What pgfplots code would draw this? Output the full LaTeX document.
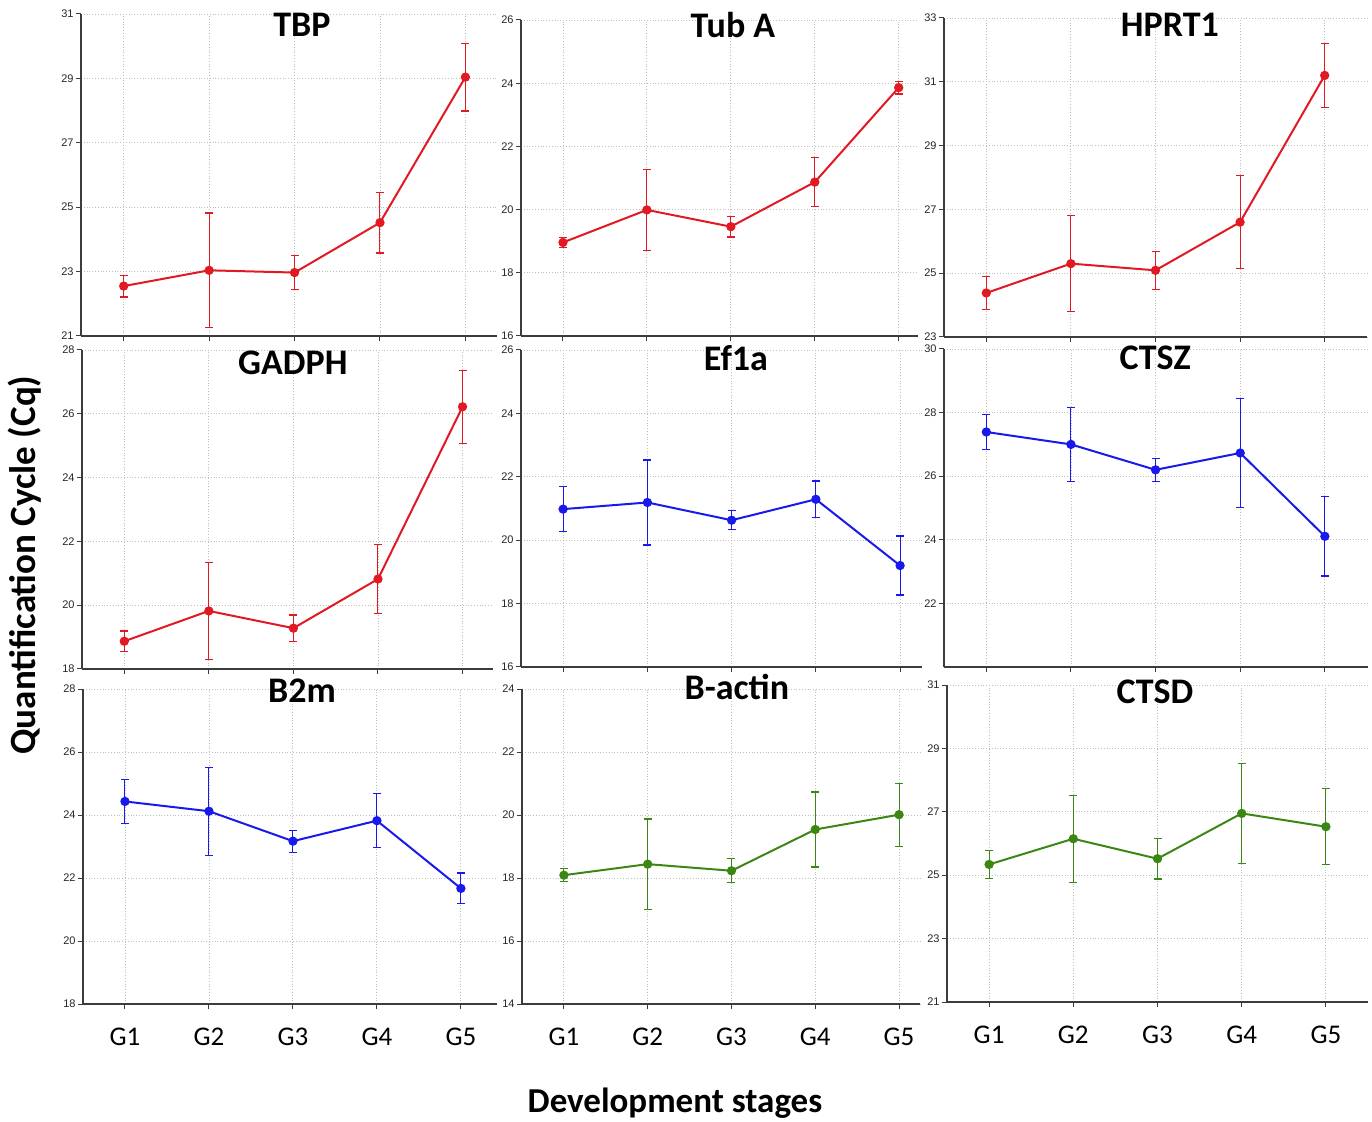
\documentclass[border=0pt]{standalone}
\usepackage{fontspec}
\setmainfont{Carlito}
\newfontfamily\tickfont{Liberation Sans}
\usepackage{pgfplots}
\pgfplotsset{compat=1.18}
\definecolor{cred}{RGB}{225,25,35}
\definecolor{cblue}{RGB}{25,25,235}
\definecolor{cgreen}{RGB}{60,135,20}
\definecolor{axgray}{RGB}{60,60,60}
\tikzset{ttl/.style={font=\bfseries\fontsize{18}{20}\selectfont}}
\pgfplotsset{
 panel/.style={
  scale only axis, anchor=south west, clip=false,
  axis x line*=bottom, axis y line*=left,
  axis line style={axgray, line width=1pt, -},
  xmin=0.5, xtick={1,2,3,4,5},
  xticklabels={},
  tick align=outside,
  major tick length=2.5pt,
  tick style={axgray, line width=0.5pt},
  grid=major,
  major grid style={densely dotted, black!25, line width=0.45pt},
  /pgf/number format/assume math mode=true,
  yticklabel style={font=\tickfont\fontsize{5.5}{6}\selectfont, inner sep=1pt, text=black!85},
  xticklabel style={font=\fontsize{13.5}{14}\selectfont, yshift=-6pt},
 },
 dataplot/.style={line width=1pt, mark=*, mark size=1.8pt, mark options={solid},
   error bars/.cd, y dir=both, y explicit,
   error bar style={line width=0.5pt},
   error mark options={rotate=90, mark size=2pt, line width=0.6pt},
   /pgfplots/.cd},
}
\begin{document}
\begin{tikzpicture}
\path[use as bounding box] (0,0) rectangle (686pt,560.5pt);
% Row 1
\begin{axis}[panel, at={(40.5pt,392.5pt)}, width=208pt, height=161pt, xmax=5.37, ymin=21, ymax=31, ytick={21,23,...,31}]
\addplot[color=cred, dataplot] coordinates {(1,22.55) +- (0,0.34) (2,23.04) +- (0,1.78) (3,22.97) +- (0,0.53) (4,24.52) +- (0,0.94) (5,29.04) +- (0,1.05)};
\node[ttl] at (rel axis cs:0.531,0.966) {TBP};
\end{axis}
\begin{axis}[panel, at={(260.5pt,392.5pt)}, width=198.5pt, height=158pt, xmax=5.23, ymin=16, ymax=26, ytick={16,18,...,26}]
\addplot[color=cred, dataplot] coordinates {(1,18.96) +- (0,0.16) (2,19.99) +- (0,1.29) (3,19.46) +- (0,0.33) (4,20.87) +- (0,0.78) (5,23.86) +- (0,0.2)};
\node[ttl] at (rel axis cs:0.534,0.984) {Tub A};
\end{axis}
\begin{axis}[panel, at={(472pt,392pt)}, width=211.5pt, height=159.5pt, xmax=5.5, ymin=23, ymax=33, ytick={23,25,...,33}]
\addplot[color=cred, dataplot] coordinates {(1,24.38) +- (0,0.52) (2,25.30) +- (0,1.5) (3,25.09) +- (0,0.6) (4,26.60) +- (0,1.46) (5,31.20) +- (0,1.0)};
\node[ttl] at (rel axis cs:0.534,0.978) {HPRT1};
\end{axis}
% Row 2
\begin{axis}[panel, at={(41pt,226pt)}, width=205.5pt, height=159.5pt, xmax=5.36, ymin=18, ymax=28, ytick={18,20,...,28}]
\addplot[color=cred, dataplot] coordinates {(1,18.87) +- (0,0.32) (2,19.82) +- (0,1.52) (3,19.28) +- (0,0.41) (4,20.82) +- (0,1.08) (5,26.22) +- (0,1.14)};
\node[ttl] at (rel axis cs:0.513,0.959) {GADPH};
\end{axis}
\begin{axis}[panel, at={(260.5pt,227pt)}, width=200.5pt, height=158.5pt, xmax=5.26, ymin=16, ymax=26, ytick={16,18,...,26}]
\addplot[color=cblue, dataplot] coordinates {(1,20.98) +- (0,0.71) (2,21.19) +- (0,1.34) (3,20.63) +- (0,0.3) (4,21.29) +- (0,0.58) (5,19.20) +- (0,0.93)};
\node[ttl] at (rel axis cs:0.536,0.975) {Ef1a};
\end{axis}
\begin{axis}[panel, at={(472pt,227pt)}, width=212pt, height=159pt, xmax=5.51, ymin=20, ymax=30, ytick={22,24,...,30}]
\addplot[color=cblue, dataplot] coordinates {(1,27.39) +- (0,0.55) (2,27.0) +- (0,1.17) (3,26.20) +- (0,0.36) (4,26.73) +- (0,1.71) (5,24.11) +- (0,1.25)};
\node[ttl] at (rel axis cs:0.498,0.972) {CTSZ};
\end{axis}
% Row 3
\begin{axis}[panel, at={(41.5pt,58.5pt)}, width=207pt, height=157.5pt, xmax=5.43, ymin=18, ymax=28, ytick={18,20,...,28}, xticklabels={G1,G2,G3,G4,G5}]
\addplot[color=cblue, dataplot] coordinates {(1,24.43) +- (0,0.69) (2,24.12) +- (0,1.4) (3,23.17) +- (0,0.35) (4,23.82) +- (0,0.86) (5,21.67) +- (0,0.49)};
\node[ttl] at (rel axis cs:0.529,0.994) {B2m};
\end{axis}
\begin{axis}[panel, at={(261pt,58.5pt)}, width=199pt, height=157.5pt, xmax=5.25, ymin=14, ymax=24, ytick={14,16,...,24}, xticklabels={G1,G2,G3,G4,G5}]
\addplot[color=cgreen, dataplot] coordinates {(1,18.09) +- (0,0.2) (2,18.44) +- (0,1.43) (3,18.23) +- (0,0.38) (4,19.54) +- (0,1.19) (5,20.01) +- (0,1.0)};
\node[ttl] at (rel axis cs:0.540,1.006) {B-actin};
\end{axis}
\begin{axis}[panel, at={(473.5pt,59.5pt)}, width=210.5pt, height=158.5pt, xmax=5.5, ymin=21, ymax=31, ytick={21,23,...,31}, xticklabels={G1,G2,G3,G4,G5}]
\addplot[color=cgreen, dataplot] coordinates {(1,25.34) +- (0,0.44) (2,26.15) +- (0,1.37) (3,25.52) +- (0,0.64) (4,26.95) +- (0,1.58) (5,26.53) +- (0,1.2)};
\node[ttl] at (rel axis cs:0.494,0.978) {CTSD};
\end{axis}
\node[rotate=90, font=\bfseries\fontsize{18.5}{20}\selectfont] at (12.5pt,278pt) {Quantification Cycle (Cq)};
\node[font=\bfseries\fontsize{17.5}{19}\selectfont] at (337.5pt,9pt) {Development stages};
\end{tikzpicture}
\end{document}
